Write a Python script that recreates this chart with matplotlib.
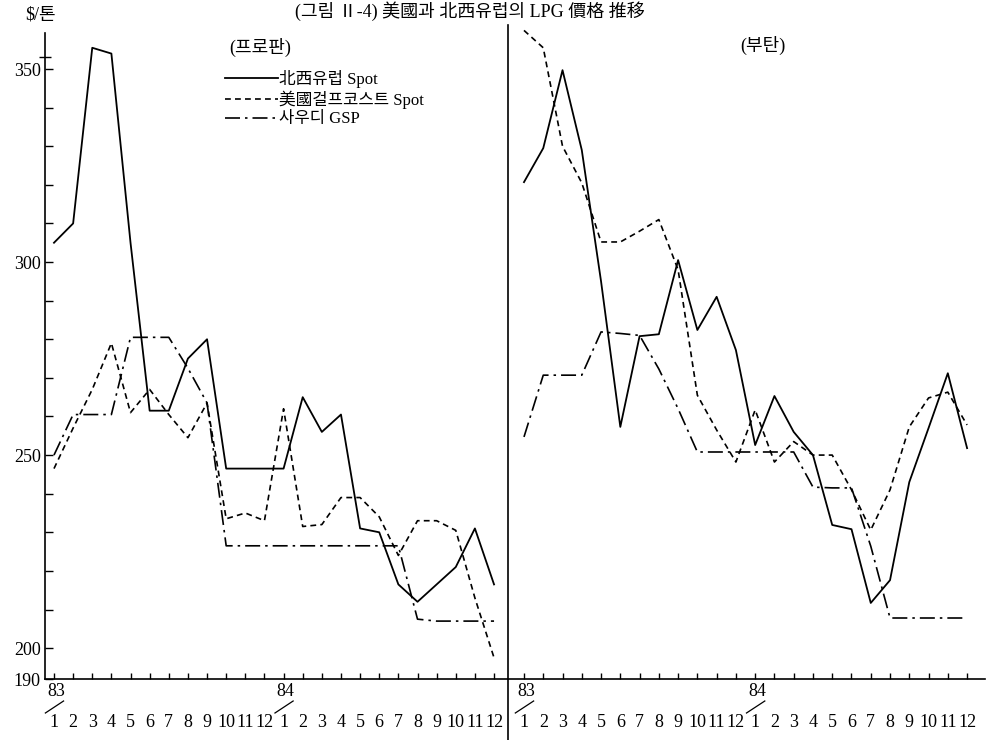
import numpy as np
import matplotlib
matplotlib.use("Agg")
from matplotlib import pyplot as plt
from matplotlib import transforms
from matplotlib.lines import Line2D

plt.rcParams['font.family'] = ['Liberation Serif', 'Noto Sans CJK KR', 'DejaVu Sans']

# months 83/1 .. 84/12
months = np.arange(1, 25)
month_labels = [str(m) for m in range(1, 13)] * 2
year_labels = ["83", "84"]
series_names = ["北西유럽 Spot", "美國걸프코스트 Spot", "사우디 GSP"]

# 프로판 ($/톤)
nw_propane = [305, 310, 355.5, 354, 305, 261.5, 261.5, 275, 280, 246.5, 246.5, 246.5,
              246.5, 265, 256, 260.5, 231, 230, 216.5, 212, 216.5, 221, 231, 216.5]
gulf_propane = [246.5, 257, 267, 279, 261, 267, 260.5, 254.5, 263.5, 233.5, 235, 233,
                262, 231.5, 232, 239, 239, 234, 224, 233, 233, 230.5, 213, 197.5]
saudi_propane = [250, 260.5, 260.5, 260.5, 280.5, 280.5, 280.5, 272.5, 263.5, 226.5, 226.5, 226.5,
                 226.5, 226.5, 226.5, 226.5, 226.5, 226.5, 226.5, 207.5, 207, 207, 207, 207]

# 부탄 ($/톤)
nw_butane = [320.7, 329.5, 349.7, 329, 295, 257.3, 280.8, 281.3, 300.5, 282.4, 291, 277.2,
             252.6, 265.3, 256, 250, 231.9, 230.8, 211.7, 217.6, 243, 257, 271.2, 251.8]
gulf_butane = [360, 355.5, 330, 320.5, 305.2, 305.2, 308, 311, 298, 265.5, 256.5, 248.2,
               261.7, 248.2, 253.5, 250, 250, 241, 230.6, 241, 257.3, 264.8, 266.3, 257.8]
saudi_butane = [254.7, 270.7, 270.7, 270.7, 281.9, 281.5, 281, 272.3, 262, 250.8, 250.8, 250.8,
                250.8, 250.8, 250.8, 241.7, 241.5, 241.5, 226.4, 207.8, 207.8, 207.8, 207.8, 207.8]

yticks_major = [200, 250, 300, 350]
ymin, ymax = 192, 361.4

W, H = 989, 740
fig = plt.figure(figsize=(W / 100, H / 100), dpi=100)
bottom = (H - 679) / H
height = (679 - 25) / H
ax1 = fig.add_axes([45 / W, bottom, (508 - 45) / W, height])
ax2 = fig.add_axes([508 / W, bottom, (985 - 508) / W, height])

styles = [
    dict(color='black', linestyle='-', linewidth=1.3),
    dict(color='black', linestyle=(0, (3.5, 2.5)), linewidth=1.2),
    dict(color='black', linestyle=(0, (9, 3, 1.5, 3)), linewidth=1.2),
]

panels = [
    (ax1, [nw_propane, gulf_propane, saudi_propane], (0.53, 24.73)),
    (ax2, [nw_butane, gulf_butane, saudi_butane], (0.17, 24.93)),
]

for ax, data, xlim in panels:
    for values, name, st in zip(data, series_names, styles):
        ax.plot(months, values, label=name, **st)
    ax.set_xlim(*xlim)
    ax.set_ylim(ymin, ymax)
    for side in ['top', 'right']:
        ax.spines[side].set_visible(False)
    ax.spines['bottom'].set_linewidth(1.2)
    ax.set_xticks(months)
    ax.set_xticklabels(month_labels, fontsize=13)
    ax.tick_params(axis='x', direction='in', length=4, width=1, pad=25)

    # year marks: "83" / "84" with slash underneath
    trans = transforms.blended_transform_factory(ax.transData, fig.transFigure)
    for m, yl in zip([1, 13], year_labels):
        ax.text(m + 0.1, 1 - 691 / H, yl, transform=trans, ha='center', va='center', fontsize=13)
        ax.add_line(Line2D([m - 0.45, m + 0.5], [1 - 713 / H, 1 - 701 / H], transform=trans,
                           color='black', linewidth=0.9, clip_on=False))

# left panel y axis
ax1.spines['left'].set_linewidth(1.2)
ax1.spines['left'].set_bounds(ymin, 359.3)
ax1.set_yticks([ymin] + yticks_major + [v for v in range(210, 360, 10) if v not in yticks_major])
ax1.set_yticklabels(["190"] + [str(v) for v in yticks_major] +
                    ["" for v in range(210, 360, 10) if v not in yticks_major], fontsize=13)
ax1.tick_params(axis='y', direction='in', length=6, width=1, pad=3)
ax1.plot([0.53], [353.2], marker='_', markersize=9, color='black', clip_on=False)

# right panel: divider line only
ax2.spines['left'].set_visible(False)
ax2.set_yticks([])
fig.add_artist(Line2D([508 / W, 508 / W], [0, 1 - 25 / H], transform=fig.transFigure,
                      color='black', linewidth=1.2))

fig.text(40 / W, 1 - 15 / H, r"\$/톤", ha='center', va='center', fontsize=13)
fig.text(260 / W, 1 - 47 / H, "(프로판)", ha='center', va='center', fontsize=13)
fig.text(763 / W, 1 - 45 / H, "(부탄)", ha='center', va='center', fontsize=13)
fig.text(470 / W, 1 - 11 / H, "(그림 Ⅱ-4) 美國과 北西유럽의 LPG 價格 推移", ha='center', va='center', fontsize=13)

ax1.legend(loc='upper left', bbox_to_anchor=(225 / W, 1 - 70 / H), bbox_transform=fig.transFigure,
           frameon=False, fontsize=12, handlelength=3.2, handletextpad=0.05, labelspacing=0.15,
           borderpad=0, borderaxespad=0)

fig.savefig("out.png", dpi=100)
